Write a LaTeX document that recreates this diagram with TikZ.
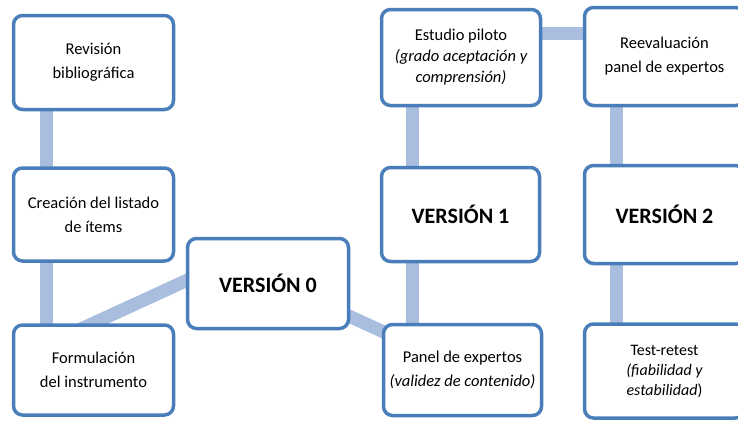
\documentclass[tikz,border=0pt]{standalone}
\usepackage{fontspec}
\setmainfont{Carlito}
\usetikzlibrary{backgrounds}
\definecolor{bordeazul}{HTML}{4A7EBB}
\definecolor{barraazul}{HTML}{A9BEDF}

\tikzset{
  caja/.style={draw=bordeazul, line width=3.5pt, rounded corners=9pt, fill=white,
    align=center, inner sep=2pt, font=\fontsize{16.5}{24}\selectfont},
  version/.style={caja, font=\fontsize{22}{26}\selectfont\bfseries},
  barra/.style={draw=barraazul, line width=13pt, line cap=butt}
}

\begin{document}
\begin{tikzpicture}[x=1pt,y=-1pt]
\clip (0,0) rectangle (738,423);

% columna izquierda
\node[caja, minimum width=160, minimum height=94] (revision) at (93.5,62.5) {Revisión\\bibliográfica};
\node[caja, minimum width=160, minimum height=93] (creacion) at (93.5,214.5) {Creación del listado\\de ítems};
\node[caja, minimum width=160, minimum height=90] (formulacion) at (93.5,370) {Formulación\\del instrumento};

\node[version, minimum width=161, minimum height=90] (version0) at (268,283.5) {VERSIÓN 0};

% columna central
\node[caja, minimum width=159, minimum height=96, font=\fontsize{16.5}{21}\selectfont] (piloto) at (461,57.5)
  {Estudio piloto\\{\itshape (grado aceptación y}\\{\itshape comprensión)}};
\node[version, minimum width=158, minimum height=94] (version1) at (460.5,214.5) {VERSIÓN 1};
\node[caja, minimum width=158, minimum height=91] (panel) at (462.5,370)
  {Panel de expertos\\{\itshape (validez de contenido)}};

% columna derecha
\node[caja, minimum width=160, minimum height=98] (reeval) at (664.5,56.5) {Reevaluación\\panel de expertos};
\node[version, minimum width=160, minimum height=98] (version2) at (664.5,214.5) {VERSIÓN 2};
\node[caja, minimum width=160, minimum height=94, font=\fontsize{16}{20}\selectfont] (test) at (664.5,371)
  {Test-retest\\{\itshape (fiabilidad y}\\{\itshape estabilidad})};

\begin{scope}[on background layer]
\draw[barra] ([shift={(-47.5,0)}]revision.center) -- ([shift={(-47.5,0)}]creacion.center);
\draw[barra] ([shift={(-47.5,0)}]creacion.center) -- ([shift={(-47.5,-25)}]formulacion.center);
\draw[barra] ([shift={(-47.5,-25)}]formulacion.center) -- ([shift={(-39,-22.5)}]version0.center);
\draw[barra] ([shift={(-39,-22.5)}]version0.center) -- ([shift={(-50.5,-25)}]panel.center);
\draw[barra] ([shift={(-50.5,-25)}]panel.center) -- ([shift={(-48.5,0)}]version1.center);
\draw[barra] ([shift={(-48.5,0)}]version1.center) -- ([shift={(-49,-24.5)}]piloto.center);
\draw[barra] ([shift={(-49,-24.5)}]piloto.center) -- ([shift={(-48.5,-23.5)}]reeval.center);
\draw[barra] ([shift={(-48.5,-23.5)}]reeval.center) -- ([shift={(-48.5,0)}]version2.center);
\draw[barra] ([shift={(-48.5,0)}]version2.center) -- ([shift={(-48.5,0)}]test.center);
\end{scope}
\end{tikzpicture}
\end{document}
